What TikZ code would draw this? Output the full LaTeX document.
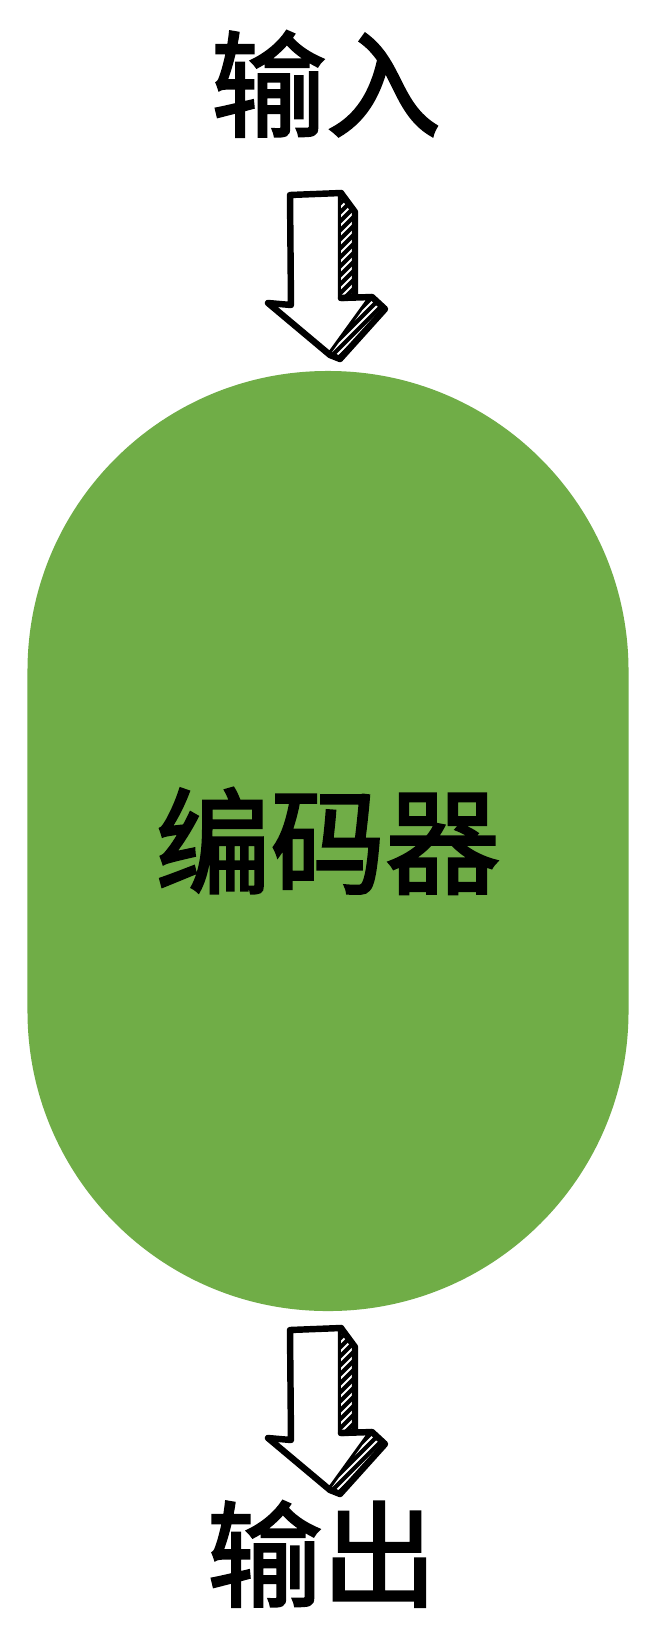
\documentclass[tikz,border=0pt]{standalone}
\usepackage{fontspec}
\newfontfamily\cjk{Noto Sans CJK SC}
\definecolor{encgreen}{HTML}{70AD47}
% glyphs filled and stroked, a little heavier
\newcommand\heavy[1]{\special{pdf:literal direct 2 Tr 2.2 w}#1\special{pdf:literal direct 0 Tr}}

\begin{document}
\begin{tikzpicture}[x=0.03cm, y=-0.03cm,
	%Option for the sketched arrows
	sketch/.style={line width=5.5pt, line join=round, line cap=round},%
	iotext/.style={font=\cjk\fontsize{98}{98}\selectfont, text=black, inner sep=0pt},
	encoder/.style={fill=encgreen, rounded corners=8.99cm, minimum width=18.03cm,
		minimum height=28.2cm, inner sep=0pt, text=black, font=\cjk\fontsize{98}{98}\selectfont},
	sketcharrow/.pic={
		% front face
		\draw[sketch, fill=white] (0,0) -- (51,-2) -- (51,103) -- (82,102)
		-- (40,160) -- (-22,108) -- (1,110) -- cycle;
		% hatched side faces
		\begin{scope}
		\clip (51,-2) -- (65,17) -- (65,102) -- (51,103) -- cycle
		(82,102) -- (95,114) -- (50,164) -- (40,160) -- cycle;
		\fill (-30,-30) rectangle (120,180);
		\foreach \k in {-170,-161,...,100}
		\draw[white, line width=1.6pt] (\k,170) -- ++(200,-200);
		\end{scope}
		\draw[sketch] (51,-2) -- (65,17) -- (65,102) -- (51,103)
		(82,102) -- (95,114) -- (50,164) -- (40,160);
	},
	]
	% Frame
	\fill[white] (0,0) rectangle (656,1646);
	\useasboundingbox (0,0) rectangle (656,1646);
	
	% Texts and encoder
	\node[iotext]  (in)  at (326,84)   {\heavy{输入}};
	\node[encoder] (enc) at (328,841)  {\heavy{编码器}};
	\node[iotext]  (out) at (322,1554) {\heavy{输出}};
	
	% Arrows
	\pic at (290,195)  {sketcharrow};
	\pic at (290,1330) {sketcharrow};
\end{tikzpicture}
\end{document}
